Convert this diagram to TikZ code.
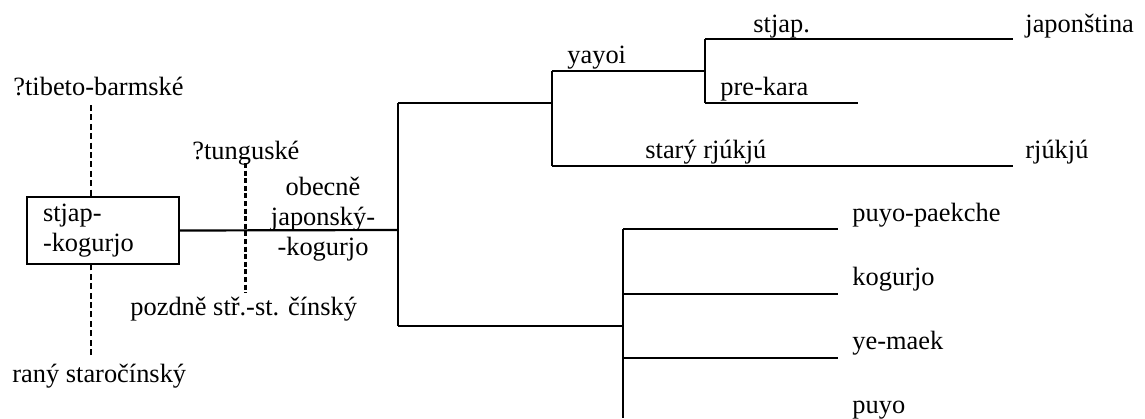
\documentclass[tikz,border=0pt]{standalone}
\usepackage{fontspec}
\setmainfont{Liberation Serif}
\usetikzlibrary{positioning,calc}
\tikzset{
  branch/.style  ={draw=black,line width=1.1pt},
  contact/.style ={draw=black,line width=0.9pt,dash pattern=on 3pt off 1.7pt},
  contactb/.style={draw=black,line width=1.5pt,dash pattern=on 2.5pt off 1.3pt},
  lbl/.style     ={anchor=base west,inner sep=0pt},
  protobox/.style={draw=black,line width=1.1pt,align=left,inner xsep=8pt,
                   text width=60pt,minimum height=32.5pt},
}

\begin{document}
\begin{tikzpicture}[x=0.5pt,y=-0.5pt,font=\fontsize{13.2}{15}\selectfont]
\useasboundingbox (0,0) rectangle (1145,418);
% proto-language and contacts
\node[protobox] (proto) at (103,230.5) {stjap-\\-kogurjo};
\node[lbl] (tib) at (13,95) {?tibeto-barmské};
\node[lbl] (eoc) at (12,382) {raný staročínský};
\node[lbl] (tung) at (192,159) {?tunguské};
\node[lbl] (lmc) at (130,315) {pozdně stř.-st. čínský};
\node[align=center,inner sep=0pt] (pjk) at (323,219) {obecně\\japonský-\\-kogurjo};
\coordinate (tibend) at (91,105);
\coordinate (eocend) at (91,355);
\draw[contact] (tibend) -- (tibend |- proto.north);
\draw[contact] (eocend) -- (eocend |- proto.south);
\coordinate (tungtop) at (245,163);
\coordinate (tungbot) at (245,293);
\draw[contactb] (tungtop) -- (tungbot);
% junctions
\coordinate (root) at (398,230);
\coordinate (jr) at (398,103);
\coordinate (kr) at (398,326);
\coordinate (yr) at (552,103);
\coordinate (ya) at (552,71);
\coordinate (ry) at (552,166);
\coordinate (sj) at (705,71);
\coordinate (jp) at (705,39);
\coordinate (pk) at (705,103);
\coordinate (pkend) at (858,103);
\coordinate (kg) at (623,326);
% japonic branch
\draw[branch] (proto.east) -- (root);
\draw[branch] (jr) -- (kr);
\draw[branch] (jr) -- (yr);
\draw[branch] (ya) -- (ry);
\draw[branch] (ya) -- (sj);
\draw[branch] (jp) -- (pk);
\node[lbl] (jap) at (1025,32) {japonština};
\node[lbl] (ryu) at (1025,158) {rjúkjú};
\draw[branch] (jp) -- ([xshift=-6pt]jp -| jap.west);
\draw[branch] (pk) -- (pkend);
\draw[branch] (ry) -- ([xshift=-6pt]ry -| ryu.west);
\node[lbl] (ojap) at (753,32) {stjap.};
\node[lbl] (yay) at (567,63) {yayoi};
\node[lbl] (prek) at (720,95) {pre-kara};
\node[lbl] (oryu) at (645,158) {starý rjúkjú};
% koguryoic branch
\draw[branch] (kr) -- (kg);
\draw[branch] (kg |- 0,229) -- (kg |- 0,418);
\node[lbl] (pyp) at (852,221) {puyo-paekche};
\node[lbl] (kog) at (852,285) {kogurjo};
\node[lbl] (yem) at (852,349) {ye-maek};
\node[lbl] (puyo) at (852,413) {puyo};
\foreach \leaf/\y in {pyp/229,kog/294,yem/358}
  {\draw[branch] (kg |- 0,\y) -- ([xshift=-7pt]0,\y -| \leaf.west);}
\end{tikzpicture}
\end{document}
